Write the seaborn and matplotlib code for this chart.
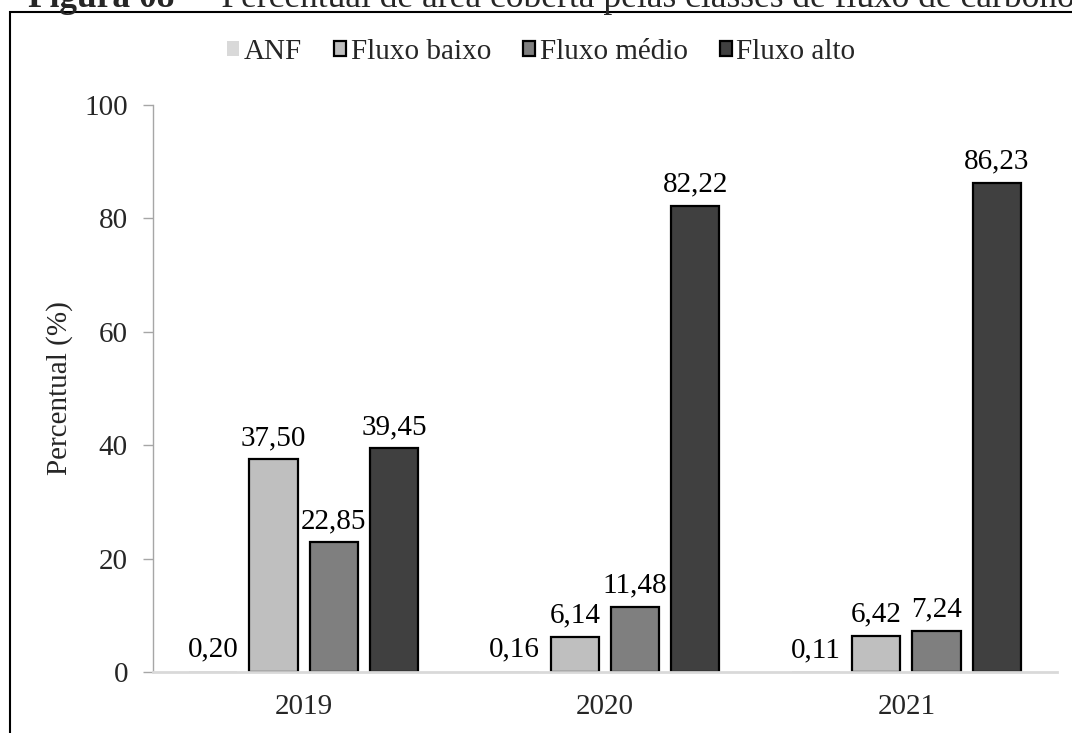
import pandas as pd
import matplotlib.pyplot as plt
import matplotlib.patches as mpatches
import seaborn as sns

# Data
anos = ["2019", "2020", "2021"]
classes = ["ANF", "Fluxo baixo", "Fluxo médio", "Fluxo alto"]
anf = [0.20, 0.16, 0.11]
fluxo_baixo = [37.50, 6.14, 6.42]
fluxo_medio = [22.85, 11.48, 7.24]
fluxo_alto = [39.45, 82.22, 86.23]
cores = ["#d9d9d9", "#bfbfbf", "#7f7f7f", "#404040"]

df = pd.DataFrame({"ano": anos * 4,
                   "classe": sum([[c] * 3 for c in classes], []),
                   "valor": anf + fluxo_baixo + fluxo_medio + fluxo_alto})

sns.set_style("white")
plt.rcParams["font.family"] = ["Liberation Serif", "DejaVu Serif"]
fs = 21

fig = plt.figure(figsize=(10.72, 7.33), dpi=100)
ax = fig.add_axes([0.1427, 0.0832, 0.8433, 0.7736])

sns.barplot(data=df, x="ano", y="valor", hue="classe", hue_order=classes,
            order=anos, palette=cores, width=0.8, gap=0.2,
            edgecolor="black", linewidth=1.6, legend=False, ax=ax)

# ANF bars have no outline
for p in ax.containers[0]:
    p.set_edgecolor("none")

for cont in ax.containers:
    ax.bar_label(cont, labels=[f"{v:.2f}".replace(".", ",") for v in cont.datavalues],
                 padding=6, fontsize=fs, color="black")

ax.set_ylim(0, 100)
ax.set_xlim(-0.5, 2.5)
ax.set_yticks([0, 20, 40, 60, 80, 100])
ax.set_xlabel("")
ax.set_ylabel("Percentual (%)", fontsize=fs, labelpad=8)
ax.tick_params(axis="y", labelsize=fs, length=7, color="#a6a6a6", width=1, pad=11, left=True)
ax.tick_params(axis="x", labelsize=fs, length=0, pad=16)
for s in ["top", "right"]:
    ax.spines[s].set_visible(False)
ax.spines["left"].set_color("#a6a6a6")
ax.spines["left"].set_linewidth(1)
ax.spines["bottom"].set_color("#d9d9d9")
ax.spines["bottom"].set_linewidth(2)

leg = fig.legend(ax.containers, classes, loc="center", bbox_to_anchor=(0.505, 0.929),
                 ncol=4, frameon=False, fontsize=fs, handlelength=0.42, handleheight=0.42,
                 handletextpad=0.15, columnspacing=1.1)
leg.legend_handles[0].set_edgecolor("none")

# frame around the figure and the cut-off caption above it
fig.patches.append(mpatches.Rectangle((10 / 1072, -0.1), 1.2, 1 - 12 / 733 + 0.1,
                                      transform=fig.transFigure, fill=False,
                                      edgecolor="black", linewidth=1.5))
fig.text(28 / 1072, 1 - 7 / 733, "Figura 08", fontsize=25.5, fontweight="bold",
         va="baseline", ha="left")
fig.text(186 / 1072, 1 - 7 / 733, " – Percentual de área coberta pelas classes de fluxo de carbono",
         fontsize=25.5, va="baseline", ha="left")

fig.savefig("out.png", dpi=100)
